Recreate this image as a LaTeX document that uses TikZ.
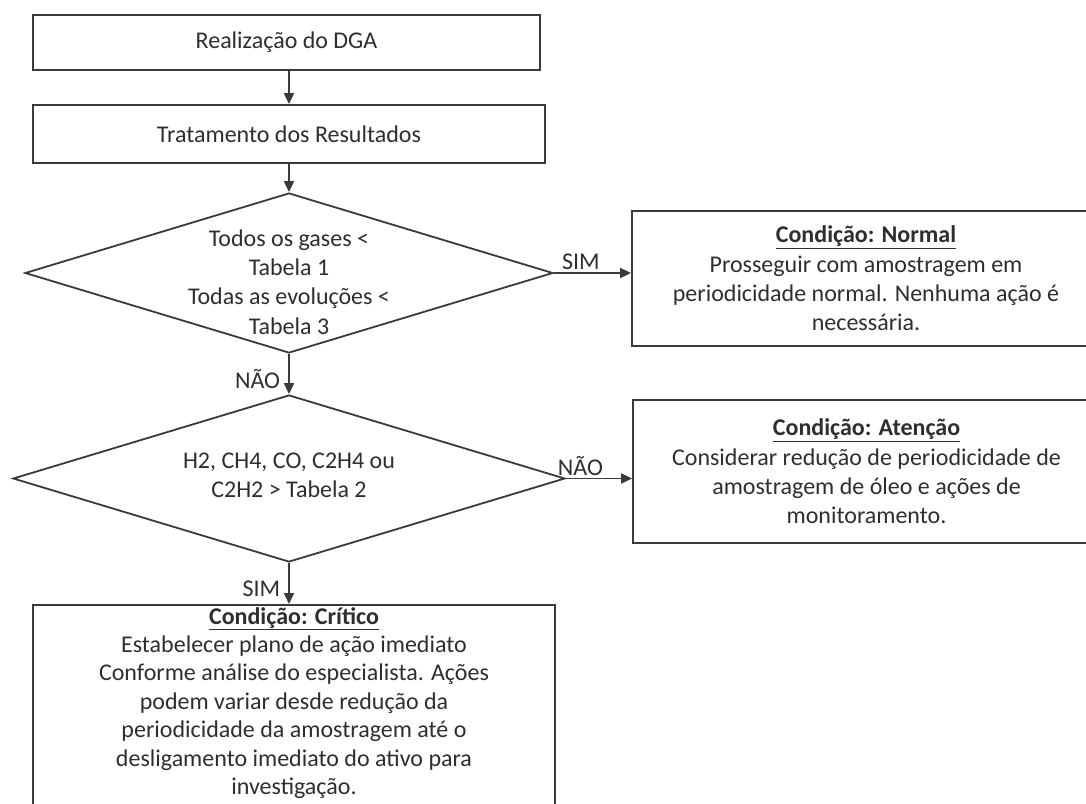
\documentclass[tikz,border=0pt]{standalone}
\usepackage{fontspec}
\setmainfont{Carlito}
\usetikzlibrary{positioning, shapes.geometric, arrows.meta}
\definecolor{linegray}{HTML}{3A3A3A}
\definecolor{txtgray}{HTML}{2E2E2E}

\begin{document}
\begin{tikzpicture}[x=1pt, y=-1pt,
every node/.style = {font=\fontsize{24}{29.3}\selectfont, text=txtgray},
        box/.style = {rectangle, draw=linegray, line width=1.8pt, align=center},
        dec/.style = {diamond, draw=linegray, line width=1.8pt, inner sep=0pt},
        arr/.style = {draw=linegray, line width=1.8pt, -{Triangle[length=11pt,width=10pt]}},
        lbl/.style = {inner sep=2pt}
                        ]
\useasboundingbox (0,0) rectangle (1086,803);
\node (dga) [box, minimum width=507pt, minimum height=55pt] at (286.5,42.5) {Realização do DGA};
\node (trat) [box, minimum width=512pt, minimum height=58pt] at (289,134) {Tratamento dos Resultados};
\node (q1) [dec, minimum width=528pt, minimum height=160pt] at (289,273) {};
\node (q1txt) [align=center] at (289,282) {Todos os gases <\\Tabela 1\\Todas as evoluções <\\Tabela 3};
\node (q2) [dec, minimum width=552pt, minimum height=167pt] at (289,478.5) {};
\node (q2txt) [align=center] at (289,475) {H2, CH4, CO, C2H4 ou\\C2H2 > Tabela 2};
\node (normal) [box, minimum width=468pt, minimum height=135pt] at (866,278.5)
   {\textbf{\underline{Condição: Normal}}\\Prosseguir com amostragem em\\periodicidade normal. Nenhuma ação é\\necessária.};
\node (atencao) [box, minimum width=467pt, minimum height=143pt] at (866.5,471.5)
   {\textbf{\underline{Condição: Atenção}}\\Considerar redução de periodicidade de\\amostragem de óleo e ações de\\monitoramento.};
\node (critico) [box, anchor=north, minimum width=522pt, minimum height=225pt] at (294,604) {};
\node (critxt) [anchor=north, align=center, inner sep=0pt,
                font=\fontsize{24}{28.4}\selectfont] at (294,607)
   {\textbf{\underline{Condição: Crítico}}\\Estabelecer plano de ação imediato\\Conforme análise do especialista. Ações\\podem variar desde redução da\\periodicidade da amostragem até o\\desligamento imediato do ativo para\\investigação.};
\draw[arr] (dga.south -| trat) -- (trat);
\draw[arr] (trat.south) -- (trat.south |- q1.north);
\draw[arr] (q1.east) -- node[lbl, above, pos=0.35] {SIM} (q1.east -| normal.west);
\draw[arr] (q1.south) -- node[lbl, left=6pt, pos=0.62] {NÃO} (q1.south |- q2.north);
\draw[arr] (q2.east) -- node[lbl, above, pos=0.22] {NÃO} (q2.east -| atencao.west);
\draw[arr] (q2.south) -- node[lbl, left=6pt, pos=0.62] {SIM} (q2.south |- critico.north);
\end{tikzpicture}
\end{document}
